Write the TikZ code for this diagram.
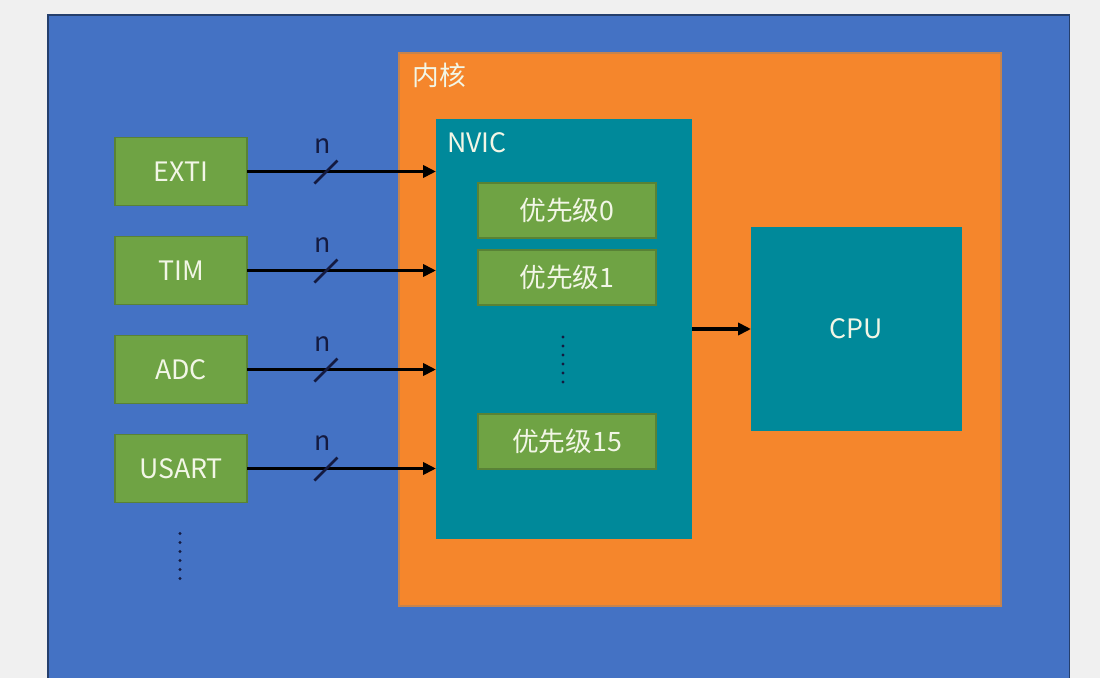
\documentclass[tikz,border=0pt]{standalone}
\usepackage{fontspec}
\setmainfont{Noto Sans CJK SC}
\usepackage{xcolor}
\usepackage{tikz}
\usetikzlibrary{arrows.meta, positioning, calc}

\definecolor{bgGray}{HTML}{F0F0F0}
\definecolor{socBlue}{HTML}{4472C4}
\definecolor{coreOrange}{HTML}{F5862C}
\definecolor{nvicTeal}{HTML}{00899A}
\definecolor{boxGreen}{HTML}{6FA344}
\definecolor{txtWhite}{HTML}{F2F6E6}
\definecolor{inkNavy}{HTML}{141A40}

\begin{document}
\begin{tikzpicture}[
    x=0.025cm, y=-0.025cm,
    every node/.style={font=\fontsize{19pt}{22pt}\selectfont, text=txtWhite},
    frame/.style={rectangle, inner sep=0pt, outer sep=0pt},
    src/.style={frame, draw=boxGreen!80!black, fill=boxGreen, line width=0.8pt,
                minimum width=3.3cm, minimum height=1.7cm},
    prio/.style={frame, draw=boxGreen!80!black, fill=boxGreen, line width=0.8pt,
                 minimum width=4.45cm, minimum height=1.375cm},
    bus/.style={-{Triangle[length=0.32cm, width=0.3cm]}, line width=2.8pt, black},
    slash/.style={line width=1.9pt, inkNavy},
    nlbl/.style={text=inkNavy, inner sep=0pt},
    vdots/.style={line width=2.4pt, inkNavy, line cap=round,
                  dash pattern=on 0pt off 0.225cm}
  ]
  \fill[bgGray] (0,0) rectangle (1100,678);
  \useasboundingbox (0,0) rectangle (1100,678);
  % Chip and kernel
  \node[frame, draw=socBlue!55!black, fill=socBlue, line width=0.8pt, anchor=north west,
        minimum width=25.525cm, minimum height=16.9cm] (soc) at (48,15) {};
  \node[frame, draw=coreOrange!60!gray, fill=coreOrange, line width=1pt,
        minimum width=15.05cm, minimum height=13.825cm] (kern) at (700,329.5) {};
  \node[anchor=base west, inner sep=0pt] (kernlbl) at (412,85) {内核};
  % NVIC with priorities
  \node[frame, fill=nvicTeal, minimum width=6.4cm, minimum height=10.5cm] (nvic) at (564,329) {};
  \node[anchor=base west, inner sep=0pt] (nviclbl) at (447,152) {NVIC};
  \foreach \lvl/\y in {0/210.5, 1/277.5, 15/441.5} {
    \node[prio] (p\lvl) at (567,\y) {优先级\lvl};
  }
  \draw[vdots] ($(p1.south)+(-4,32)$) -- ($(p1.south)+(-4,79)$);
  % CPU
  \node[frame, fill=nvicTeal, minimum width=5.275cm, minimum height=5.1cm] (cpu) at (856.5,329) {CPU};
  \draw[bus] (nvic.east) -- (cpu.west);
  % Interrupt sources
  \foreach \name/\y in {EXTI/171.5, TIM/270.5, ADC/369.5, USART/468.5} {
    \node[src] (\name) at (181,\y) {\name};
    \draw[bus] (\name.east) -- coordinate[pos=0.415] (cut\name) (\name.east -| nvic.west);
    \draw[slash] ($(cut\name)+(-11,12)$) -- ($(cut\name)+(12,-11)$);
    \node[nlbl, anchor=base] (n\name) at ($(cut\name)+(-3,-18)$) {n};
  }
  \draw[vdots] ($(USART.south)+(-1,31)$) -- ($(USART.south)+(-1,78)$);
\end{tikzpicture}
\end{document}
